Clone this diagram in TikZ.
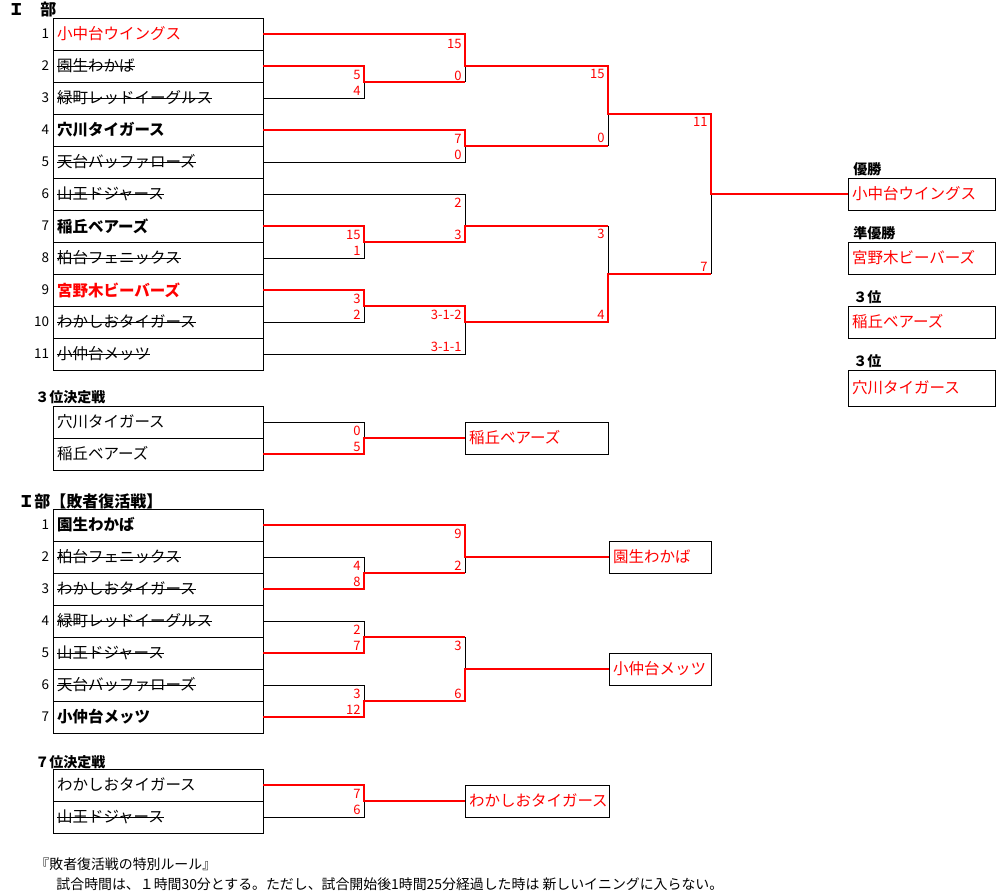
\documentclass[tikz,border=0pt]{standalone}
\usepackage{fontspec}
\setmainfont{Noto Sans CJK JP}
\usetikzlibrary{positioning}

\newcommand{\namefont}{\fontsize{15.5}{18}\selectfont}
\newsavebox{\namebox}
\newcommand{\outname}[1]{\sbox\namebox{#1}\rlap{\rule[.35em]{\wd\namebox}{.7pt}}\usebox\namebox}
\newcommand{\boldname}[1]{\textbf{#1}}
\newcommand{\redname}[1]{\textcolor{red}{#1}}

\tikzset{
  teambox/.style={draw, anchor=north west, minimum height=32pt, text width=202pt,
    inner xsep=4pt, inner ysep=0pt, outer sep=0pt, align=left, font=\namefont},
  resbox/.style={draw, anchor=north west, minimum height=32pt, text width=#1,
    inner xsep=4pt, inner ysep=0pt, outer sep=0pt, align=left, text=red, font=\namefont},
  rownum/.style={inner sep=0pt, font=\fontsize{13.5}{15}\selectfont},
  score/.style={anchor=east, inner sep=0pt, text=red, font=\fontsize{13}{15}\selectfont},
  heading/.style={anchor=west, inner sep=0pt, font=\bfseries\fontsize{16}{18}\selectfont},
  subhead/.style={anchor=west, inner sep=0pt, font=\bfseries\fontsize{14}{16}\selectfont},
  rank/.style={inner sep=0pt, font=\bfseries\fontsize{14}{16}\selectfont},
  note/.style={anchor=west, inner sep=0pt, font=\fontsize{13.9}{16}\selectfont},
  winline/.style={red, line width=2pt}
}

\begin{document}
\begin{tikzpicture}[x=1pt, y=-1pt, line width=0.9pt]
\useasboundingbox (0,0) rectangle (996,893);

% Titles
\node[heading] (ttlmain) at (8,10) {Ｉ　部};
\node[subhead] (ttlthird) at (35,397) {３位決定戦};
\node[heading] (ttlrepe) at (18,501) {Ｉ部【敗者復活戦】};
\node[subhead] (ttlseventh) at (35,762) {７位決定戦};

% Main bracket teams
\foreach \i/\n in {1/\redname{小中台ウイングス}, 2/\outname{園生わかば},
    3/\outname{緑町レッドイーグルス}, 4/\boldname{穴川タイガース},
    5/\outname{天台バッファローズ}, 6/\outname{山王ドジャース},
    7/\boldname{稲丘ベアーズ}, 8/\outname{柏台フェニックス},
    9/\redname{\boldname{宮野木ビーバーズ}}, 10/\outname{わかしおタイガース},
    11/\outname{小仲台メッツ}} {
  \node[teambox] (u\i) at (53,{18+32*(\i-1)}) {\n};
  \node[rownum, left=3.5pt of u\i] (nu\i) {\i};
}

% Third place match teams
\node[teambox] (p1) at (53,406) {穴川タイガース};
\node[teambox] (p2) at (53,438) {稲丘ベアーズ};

% Repechage teams
\foreach \i/\n in {1/\boldname{園生わかば}, 2/\outname{柏台フェニックス},
    3/\outname{わかしおタイガース}, 4/\outname{緑町レッドイーグルス},
    5/\outname{山王ドジャース}, 6/\outname{天台バッファローズ},
    7/\boldname{小仲台メッツ}} {
  \node[teambox] (l\i) at (53,{509+32*(\i-1)}) {\n};
  \node[rownum, left=3.5pt of l\i] (nl\i) {\i};
}

% Seventh place match teams
\node[teambox] (q1) at (53,769) {わかしおタイガース};
\node[teambox] (q2) at (53,801) {\outname{山王ドジャース}};

% Results
\node[resbox=139pt] (champ) at (848,178) {小中台ウイングス};
\node[resbox=139pt] (second) at (848,242) {宮野木ビーバーズ};
\node[resbox=139pt] (bronzea) at (848,306) {稲丘ベアーズ};
\node[resbox=139pt, minimum height=36pt] (bronzeb) at (848,370) {穴川タイガース};
\node[rank, above right=1.5pt and 5pt of champ.north west] (lchamp) {優勝};
\node[rank, above right=1.5pt and 5pt of second.north west] (lsecond) {準優勝};
\node[rank, above right=1.5pt and 5pt of bronzea.north west] (lbronzea) {３位};
\node[rank, above right=1.5pt and 5pt of bronzeb.north west] (lbronzeb) {３位};
\node[resbox=135pt] (third) at (465,422) {稲丘ベアーズ};
\node[resbox=94pt] (rw1) at (609,541) {園生わかば};
\node[resbox=94pt] (rw2) at (609,653) {小仲台メッツ};
\node[resbox=136pt] (seventh) at (465,785) {わかしおタイガース};

% Match points
\coordinate (m1) at (364,82);
\coordinate (m2) at (465,66);
\coordinate (m3) at (465,146);
\coordinate (m4) at (608,114);
\coordinate (m5) at (364,242);
\coordinate (m6) at (465,226);
\coordinate (m7) at (364,306);
\coordinate (m8) at (465,322);
\coordinate (m9) at (608,274);
\coordinate (m10) at (711,194);
\coordinate (t1) at (364,438);
\coordinate (k1) at (364,573);
\coordinate (k2) at (465,557);
\coordinate (k3) at (364,637);
\coordinate (k4) at (364,701);
\coordinate (k5) at (465,669);
\coordinate (s1) at (364,801);

% Losing sides
\draw (u3.east) -| (m1);
\draw (m1 -| m2) -- (m2);
\draw (u5.east) -| (m3);
\draw (m3 -| m4) -- (m4);
\draw (u6.east) -| (m6);
\draw (u8.east) -| (m5);
\draw (u10.east) -| (m7);
\draw (u11.east) -| (m8);
\draw (m6 -| m9) -- (m9);
\draw (m9 -| m10) -- (m10);
\draw (p1.east) -| (t1);
\draw (l2.east) -| (k1);
\draw (k1 -| k2) -- (k2);
\draw (l4.east) -| (k3);
\draw (l6.east) -| (k4);
\draw (k3 -| k5) -- (k5);
\draw (q2.east) -| (s1);

% Winning runs
\draw[winline] (u1.east) -| (m2) -| (m4) -| (m10) -- (champ.west);
\draw[winline] (u9.east) -| (m7) -| (m8) -| (m9) -- (m9 -| m10);
\draw[winline] (u7.east) -| (m5) -| (m6) -- (m6 -| m9);
\draw[winline] (u4.east) -| (m3) -- (m3 -| m4);
\draw[winline] (u2.east) -| (m1) -- (m1 -| m2);
\draw[winline] (p2.east) -| (t1) -- (third.west);
\draw[winline] (l1.east) -| (k2) -- (rw1.west);
\draw[winline] (l3.east) -| (k1) -- (k1 -| k2);
\draw[winline] (l5.east) -| (k3) -- (k3 -| k5);
\draw[winline] (l7.east) -| (k4) -| (k5) -- (rw2.west);
\draw[winline] (q1.east) -| (s1) -- (seventh.west);

% Scores
\foreach \x/\y/\s [count=\k] in {364/75/5, 364/91/4, 465/43.5/15, 465/76/0,
    465/138.5/7, 465/155/0, 608/74/15, 608/138/0, 364/234.5/15, 364/251/1,
    465/203/2, 465/235/3, 364/298.5/3, 364/315/2, 465/315/3-1-2, 465/347/3-1-1,
    608/234/3, 608/315/4, 711/122/11, 711/266.5/7, 364/430.5/0, 364/447/5,
    364/565.5/4, 364/582/8, 465/533.5/9, 465/566/2, 364/629.5/2, 364/646/7,
    364/693.5/3, 364/710/12, 465/645.5/3, 465/694/6, 364/793.5/7, 364/810/6} {
  \node[score] (sc\k) at (\x-3,\y) {\s};
}

% Rule note
\node[note] (rulehead) at (35,864) {『敗者復活戦の特別ルール』};
\node[note] (ruletext) at (56,884) {試合時間は、１時間30分とする。ただし、試合開始後1時間25分経過した時は 新しいイニングに入らない。};

\end{tikzpicture}
\end{document}
